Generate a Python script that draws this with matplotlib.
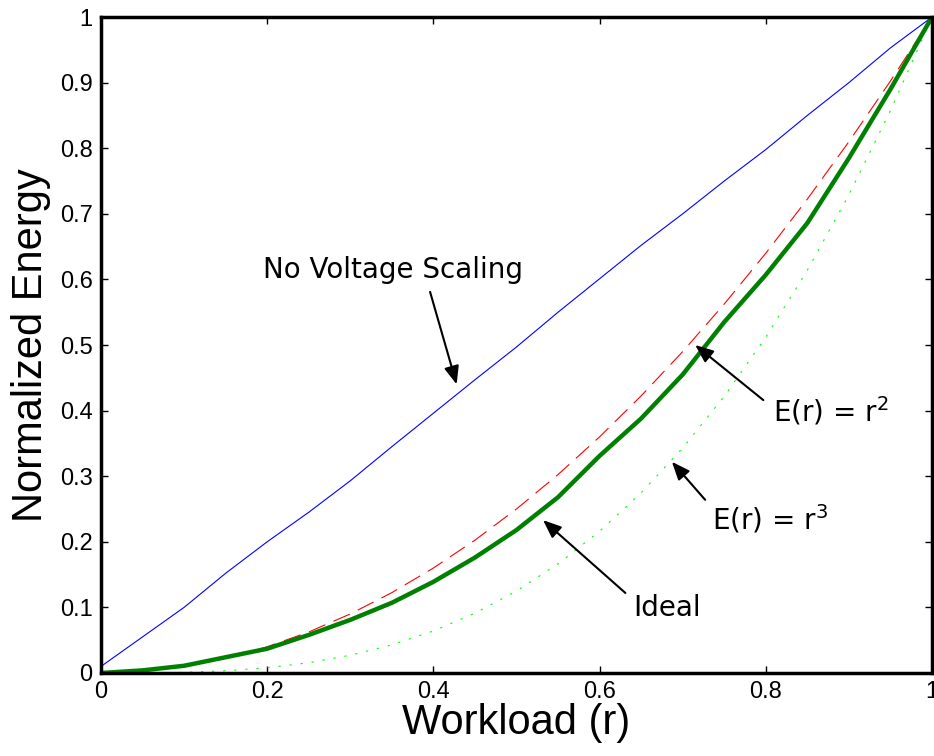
import matplotlib.pyplot as plt

# workload values (x) every 0.05
r = [0.00, 0.05, 0.10, 0.15, 0.20, 0.25, 0.30, 0.35, 0.40, 0.45, 0.50,
     0.55, 0.60, 0.65, 0.70, 0.75, 0.80, 0.85, 0.90, 0.95, 1.00]

# energy curves
no_scaling = [0.010, 0.055, 0.100, 0.152, 0.200, 0.245, 0.293, 0.345, 0.396, 0.447, 0.497,
              0.550, 0.601, 0.652, 0.700, 0.750, 0.798, 0.850, 0.900, 0.953, 1.000]
e_r2 = [0.0000, 0.0025, 0.0100, 0.0225, 0.0400, 0.0625, 0.0900, 0.1225, 0.1600, 0.2025, 0.2500,
        0.3025, 0.3600, 0.4225, 0.4900, 0.5625, 0.6400, 0.7225, 0.8100, 0.9025, 1.0000]
e_r3 = [0.0000, 0.0001, 0.0010, 0.0034, 0.0080, 0.0156, 0.0270, 0.0429, 0.0640, 0.0911, 0.1250,
        0.1664, 0.2160, 0.2746, 0.3430, 0.4219, 0.5120, 0.6141, 0.7290, 0.8574, 1.0000]
ideal = [0.000, 0.004, 0.011, 0.024, 0.037, 0.058, 0.081, 0.107, 0.139, 0.176, 0.218,
         0.268, 0.331, 0.388, 0.455, 0.535, 0.607, 0.686, 0.785, 0.890, 1.000]

xticks = [0, 0.2, 0.4, 0.6, 0.8, 1]
xlabels = ['0', '0.2', '0.4', '0.6', '0.8', '1']
yticks = [0, 0.1, 0.2, 0.3, 0.4, 0.5, 0.6, 0.7, 0.8, 0.9, 1]
ylabels = ['0', '0.1', '0.2', '0.3', '0.4', '0.5', '0.6', '0.7', '0.8', '0.9', '1']

fig = plt.figure(figsize=(9.34, 7.56), dpi=100)
ax = fig.add_axes([0.1081, 0.1098, 0.8898, 0.8677])

ax.plot(r, no_scaling, color='#0000ff', lw=0.8)
ax.plot(r, e_r2, color='#ff0000', lw=0.8, dashes=(16, 8))
ax.plot(r, e_r3, color='#00ff00', lw=0.8, dashes=(2, 8))
ax.plot(r, ideal, color='#008000', lw=3.2)

ax.set_xlim(0, 1)
ax.set_ylim(0, 1)
ax.set_xticks(xticks)
ax.set_xticklabels(xlabels)
ax.set_yticks(yticks)
ax.set_yticklabels(ylabels)
ax.tick_params(direction='in', top=True, right=True, length=5, width=1,
               labelsize=17, pad=6)
for lab in ax.get_xticklabels() + ax.get_yticklabels():
    lab.set_family('Liberation Sans')
for s in ax.spines.values():
    s.set_linewidth(2.5)

ax.set_xlabel('Workload (r)', fontsize=30, family='Liberation Sans', labelpad=0)
ax.set_ylabel('Normalized Energy', fontsize=30, family='Liberation Sans', labelpad=6)

arrow = dict(arrowstyle='-|>,head_length=1.1,head_width=0.45', color='black', lw=1.5,
             shrinkA=0, shrinkB=0)
txt = dict(fontsize=20, family='DejaVu Sans', ha='center', va='center')

ax.annotate('', xy=(0.428, 0.440), xytext=(0.396, 0.581), arrowprops=arrow)
ax.text(0.351, 0.614, 'No Voltage Scaling', **txt)

ax.annotate('', xy=(0.715, 0.500), xytext=(0.797, 0.416), arrowprops=arrow)
ax.text(0.878, 0.400, 'E(r) = r$^2$', **txt)

ax.annotate('', xy=(0.687, 0.322), xytext=(0.727, 0.264), arrowprops=arrow)
ax.text(0.805, 0.235, 'E(r) = r$^3$', **txt)

ax.annotate('', xy=(0.532, 0.233), xytext=(0.631, 0.122), arrowprops=arrow)
ax.text(0.681, 0.099, 'Ideal', **txt)

fig.savefig('out.png', dpi=100)
